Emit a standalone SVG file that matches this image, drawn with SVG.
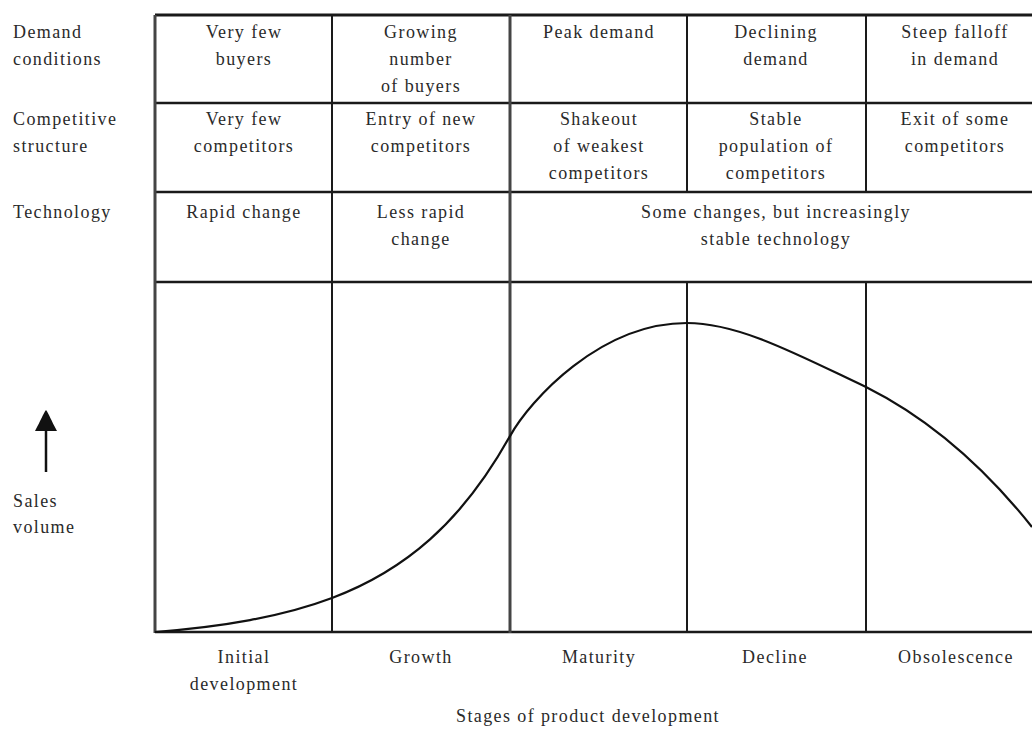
<svg xmlns="http://www.w3.org/2000/svg" width="1032" height="729" viewBox="0 0 1032 729">
<style>
text{font-family:"Liberation Serif","Times New Roman",serif;font-size:18px;letter-spacing:1.4px;fill:#2a2a2a}
.c{text-anchor:middle}
.g{stroke:#1a1a1a;stroke-width:2;fill:none}
.curve{stroke:#111;stroke-width:2.2;fill:none}
</style>
<rect width="1032" height="729" fill="#fff"/>
<g id="grid" class="g">
<line x1="155" y1="15" x2="1032" y2="15" stroke-width="3"/>
<line x1="155" y1="103" x2="1032" y2="103" stroke-width="2.5"/>
<line x1="155" y1="192" x2="1032" y2="192" stroke-width="2.5"/>
<line x1="155" y1="282" x2="1032" y2="282" stroke-width="2.5"/>
<line x1="155" y1="632" x2="1032" y2="632" stroke-width="2.5"/>
<line x1="155" y1="15" x2="155" y2="633" stroke="#444" stroke-width="3"/>
<line x1="332" y1="15" x2="332" y2="633"/>
<line x1="510" y1="15" x2="510" y2="633" stroke="#444" stroke-width="3"/>
<line x1="687" y1="15" x2="687" y2="192"/>
<line x1="687" y1="282" x2="687" y2="633"/>
<line x1="866" y1="15" x2="866" y2="192"/>
<line x1="866" y1="282" x2="866" y2="633"/>
</g>
<g id="connectors">
<path class="curve" d="M155,632 C186.7,629.5 218.3,626 250,620.1 C277.3,615 304.7,608.3 332,598 C364.7,585.7 397.3,568.5 430,539.4 C456.7,515.6 483.3,483.9 510,436.1 C530,400.2 600,323 687,323 C740,323 800,356 866,387 C921,414.5 977,458 1032,527"/>
<line x1="46" y1="472" x2="46" y2="428" stroke="#111" stroke-width="2.5"/>
<path d="M46,410 C49,414 51,420 57,431 L35,431 C41,420 43,414 46,410 Z" fill="#111"/>
</g>
<g id="row-labels">
<text x="13" y="38">Demand</text><text x="13" y="65">conditions</text>
<text x="13" y="125">Competitive</text><text x="13" y="152">structure</text>
<text x="13" y="218">Technology</text>
<text x="13" y="507">Sales</text><text x="13" y="533">volume</text>
</g>
<g id="demand">
<text class="c" x="244" y="38">Very few</text><text class="c" x="244" y="65">buyers</text>
<text class="c" x="421" y="38">Growing</text><text class="c" x="421" y="65">number</text><text class="c" x="421" y="92">of buyers</text>
<text class="c" x="599" y="38">Peak demand</text>
<text class="c" x="776" y="38">Declining</text><text class="c" x="776" y="65">demand</text>
<text class="c" x="955" y="38">Steep falloff</text><text class="c" x="955" y="65">in demand</text>
</g>
<g id="competition">
<text class="c" x="244" y="125">Very few</text><text class="c" x="244" y="152">competitors</text>
<text class="c" x="421" y="125">Entry of new</text><text class="c" x="421" y="152">competitors</text>
<text class="c" x="599" y="125">Shakeout</text><text class="c" x="599" y="152">of weakest</text><text class="c" x="599" y="179">competitors</text>
<text class="c" x="776" y="125">Stable</text><text class="c" x="776" y="152">population of</text><text class="c" x="776" y="179">competitors</text>
<text class="c" x="955" y="125">Exit of some</text><text class="c" x="955" y="152">competitors</text>
</g>
<g id="technology">
<text class="c" x="244" y="218">Rapid change</text>
<text class="c" x="421" y="218">Less rapid</text><text class="c" x="421" y="245">change</text>
<text class="c" x="776" y="218">Some changes, but increasingly</text><text class="c" x="776" y="245">stable technology</text>
</g>
<g id="stages">
<text class="c" x="244" y="663">Initial</text><text class="c" x="244" y="690">development</text>
<text class="c" x="421" y="663">Growth</text>
<text class="c" x="599" y="663">Maturity</text>
<text class="c" x="775" y="663">Decline</text>
<text class="c" x="956" y="663">Obsolescence</text>
<text class="c" x="588" y="722">Stages of product development</text>
</g>
</svg>
